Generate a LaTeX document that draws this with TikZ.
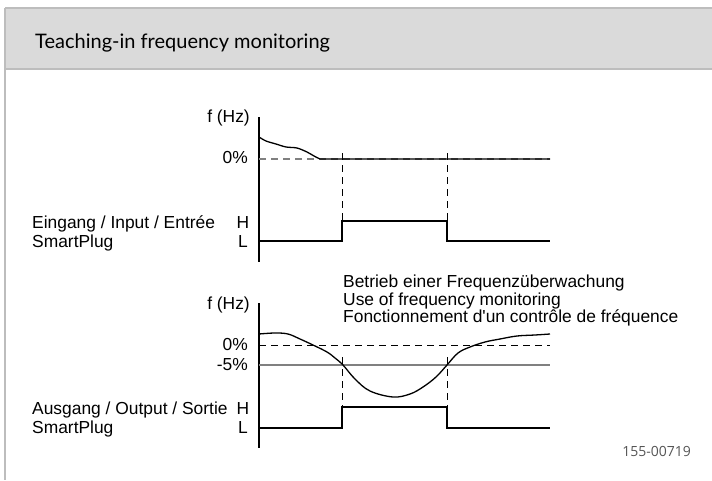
\documentclass[tikz,border=0pt]{standalone}
\usepackage{fontspec}
\setmainfont{Liberation Sans}
\newfontfamily\titlefont{Lato}
\newfontfamily\codefont{Open Sans}
\definecolor{headgray}{HTML}{DADADA}
\definecolor{framegray}{HTML}{BDBDBD}
\definecolor{levelgray}{HTML}{808080}
\definecolor{codegray}{HTML}{555555}
\tikzset{
  lbl/.style = {inner sep = 0pt, font = \fontsize{17.4}{17.4}\selectfont},
  sig/.style = {line width = 1.3pt},
  guide/.style = {line width = 0.8pt, dash pattern = on 7pt off 5pt},
}
\begin{document}
\begin{tikzpicture}[x = 1pt, y = -1pt]
      \useasboundingbox (0, 0) rectangle (712, 480);

      \fill[headgray] (5, 8) rectangle (712, 69);
      \draw[framegray, line width = 1.5pt] (5, 8) -- (712, 8);
      \draw[framegray, line width = 2pt] (5, 69) -- (712, 69);
      \draw[framegray, line width = 2pt] (5, 8) -- (5, 480);
      \node[anchor = base west, inner sep = 0pt, font = \titlefont\fontsize{20}{20}\selectfont] (title) at (35, 48) {Teaching-in frequency monitoring};

      % teaching-in
      \coordinate (ax1top) at (259, 117);
      \coordinate (ax1bot) at (259, 262);
      \draw[sig] (ax1top) -- (ax1bot);
      \node[lbl, anchor = base east] (f1) at (250, 122) {f (Hz)};
      \node[lbl, anchor = base east] (zero1) at (248, 163) {0\%};
      \draw[levelgray, guide, line width = 1.3pt] (259, 159) -- (550, 159);
      \draw[sig] plot[smooth] coordinates {(259, 137) (266, 141) (276, 144) (286, 147) (297, 148) (307, 152) (314, 156) (320, 159)} -- (550, 159);
      \draw[sig] (259, 241) -- (342, 241) -- (342, 221) -- (447, 221) -- (447, 241) -- (550, 241);
      \draw[guide] (342, 153) -- (342, 221);
      \draw[guide] (447, 153) -- (447, 221);
      \node[lbl, anchor = base west] (in1) at (32, 228) {Eingang / Input / Entrée};
      \node[lbl, anchor = base west] (in2) at (32, 247) {SmartPlug};
      \node[lbl, anchor = base] (hi1) at (243, 228) {H};
      \node[lbl, anchor = base] (lo1) at (243, 247) {L};

      % operation
      \coordinate (ax2top) at (259, 303);
      \coordinate (ax2bot) at (259, 448);
      \draw[sig] (ax2top) -- (ax2bot);
      \node[lbl, anchor = base east] (f2) at (250, 309) {f (Hz)};
      \node[lbl, anchor = base east] (zero2) at (248, 350) {0\%};
      \node[lbl, anchor = base east] (minus2) at (248, 370) {-5\%};
      \draw[guide, line width = 1pt] (259, 345) -- (550, 345);
      \draw[levelgray, sig] (259, 365) -- (550, 365);
      \draw[sig] plot[smooth, tension = 0.6] coordinates {(259, 334) (275, 333) (288, 334) (300, 339) (313, 345) (327, 352) (335, 358) (343, 365) (355, 379) (370, 391) (393, 397) (410, 394) (423, 387) (436, 377) (447, 365) (458, 353) (470, 347) (485, 342) (500, 339) (517, 336) (535, 335) (550, 334)};
      \draw[sig] (259, 428) -- (342, 428) -- (342, 407) -- (447, 407) -- (447, 428) -- (550, 428);
      \draw[guide] (342, 357) -- (342, 407);
      \draw[guide] (447, 357) -- (447, 407);
      \node[lbl, anchor = base west] (out1) at (32, 414) {Ausgang / Output / Sortie};
      \node[lbl, anchor = base west] (out2) at (32, 433) {SmartPlug};
      \node[lbl, anchor = base] (hi2) at (243, 414) {H};
      \node[lbl, anchor = base] (lo2) at (243, 433) {L};
      \node[lbl, anchor = base west] (use1) at (343, 287) {Betrieb einer Frequenzüberwachung};
      \node[lbl, anchor = base west] (use2) at (343, 305) {Use of frequency monitoring};
      \node[lbl, anchor = base west] (use3) at (343, 322) {Fonctionnement d\textquotesingle un contrôle de fréquence};

      \node[anchor = base east, inner sep = 0pt, text = codegray, font = \codefont\fontsize{14}{14}\selectfont] (code) at (691, 456) {155-00719};
    \end{tikzpicture}
\end{document}
